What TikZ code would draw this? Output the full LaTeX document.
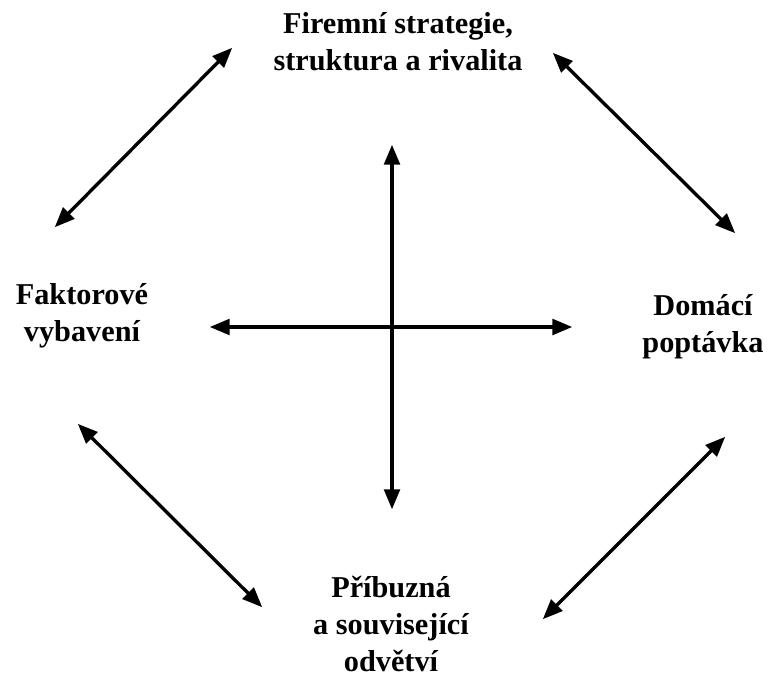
\documentclass[tikz,border=0pt]{standalone}
\usepackage{fontspec}
\setmainfont{Liberation Serif}
\usetikzlibrary{arrows}

\begin{document}
\begin{tikzpicture}[x=.75pt,y=-.75pt]
\tikzset{
 factor/.style={align=center,inner sep=0pt,
   font=\bfseries\fontsize{22.7}{28}\selectfont},
 link/.style={black,line width=2.5pt,<->,>=triangle 45}
}
\useasboundingbox (0,0) rectangle (770,677);
% the four determinants
\node[factor] (firm)   at (398,42)  {Firemní strategie,\\struktura a rivalita};
\node[factor] (factors) at (82,316)  {Faktorové\\vybavení};
\node[factor] (demand) at (703,327) {Domácí\\poptávka};
\node[factor] (related) at (391,624) {Příbuzná\\a související\\odvětví};
% arrow ends
\coordinate (tlA) at (55,227);  \coordinate (tlB) at (232,48);
\coordinate (trA) at (553,53);  \coordinate (trB) at (735,233);
\coordinate (blA) at (78,424);  \coordinate (blB) at (262,607);
\coordinate (brA) at (725,437); \coordinate (brB) at (543,619);
\coordinate (up) at (392,145);  \coordinate (down) at (392,509);
\coordinate (west) at (210,327); \coordinate (east) at (572,327);
\draw[link] (tlA) -- (tlB);
\draw[link] (trA) -- (trB);
\draw[link] (blA) -- (blB);
\draw[link] (brA) -- (brB);
\draw[link] (up) -- (down);
\draw[link] (west) -- (east);
\end{tikzpicture}
\end{document}
